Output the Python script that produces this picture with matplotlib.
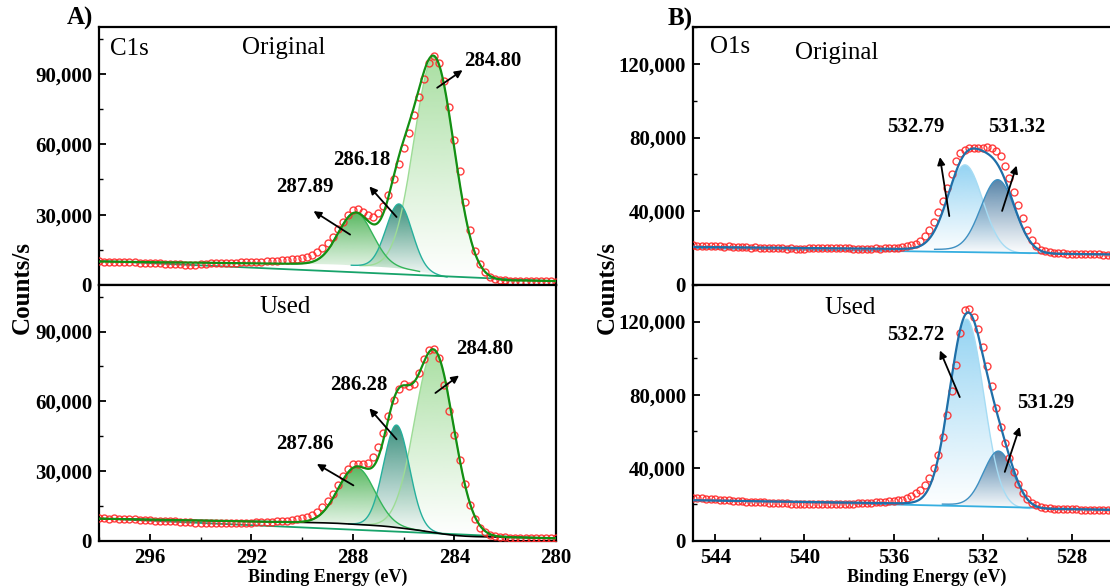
import numpy as np
import matplotlib
matplotlib.use('Agg')
import matplotlib.pyplot as plt
from matplotlib.colors import to_rgb
from matplotlib.patches import Polygon
from matplotlib.ticker import MultipleLocator, FuncFormatter, FixedLocator

plt.rcParams['font.family'] = ['Liberation Serif', 'DejaVu Serif']

# ---------------- data ----------------
c1s_energy = np.round(np.arange(298.0, 279.99, -0.2), 2)
c1s_orig_counts = [
    10100, 10000, 9900, 9900, 9800, 9700, 9800, 9600, 9500, 9500,
    9400, 9300, 9300, 9100, 9000, 9000, 8800, 8600, 8500, 8700,
    8900, 9100, 9200, 9300, 9300, 9400, 9500, 9500, 9600, 9700,
    9800, 9900, 10000, 10100, 10200, 10300, 10500, 10700, 10900, 11100,
    11400, 12000, 12800, 14000, 15600, 17800, 20600, 23700, 26900, 30000,
    32000, 32300, 31200, 29800, 29000, 30500, 33500, 38500, 45000, 51500,
    58500, 65000, 72500, 80000, 88000, 94500, 97500, 94500, 87000, 76000,
    62000, 48500, 35500, 23500, 14500, 8800, 5500, 3600, 2700, 2300,
    2100, 1900, 1800, 1700, 1700, 1600, 1600, 1500, 1500, 1500,
    1400]
c1s_used_counts = [
    9800, 9700, 9600, 9700, 9500, 9400, 9300, 9300, 9200, 9000,
    8900, 8800, 8800, 8700, 8500, 8400, 8200, 8100, 8000, 7900,
    7800, 7700, 7700, 7600, 7700, 7700, 7600, 7700, 7800, 7800,
    7900, 8000, 8100, 8200, 8300, 8400, 8600, 8800, 9000, 9300,
    9700, 10300, 11200, 12600, 14600, 17200, 20400, 24000, 27800, 31000,
    33000, 33300, 33000, 33500, 36000, 40500, 46500, 53500, 60500, 65500,
    67500, 66500, 67500, 72000, 78000, 82000, 82500, 78500, 67000, 56000,
    45500, 35000, 24500, 15500, 9500, 5800, 3800, 2700, 2100, 1800,
    1600, 1500, 1400, 1400, 1300, 1300, 1300, 1200, 1200, 1200,
    1100]

o1s_energy = np.round(np.arange(545.0, 523.99, -0.2), 2)
o1s_orig_counts = [
    21500, 21300, 21400, 21200, 21000, 21100, 20900, 20800, 20900, 20700,
    20600, 20600, 20400, 20300, 20400, 20200, 20100, 20200, 20000, 19900,
    20000, 19800, 19900, 19700, 19800, 19800, 19900, 20000, 20100, 20000,
    20200, 20100, 20200, 20000, 19900, 19900, 19800, 19700, 19800, 19700,
    19800, 19900, 19800, 19900, 20000, 20100, 20300, 20700, 21200, 21700,
    22500, 24000, 26500, 29800, 34000, 39500, 45500, 52500, 60000, 67500,
    71500, 73500, 74300, 74500, 74200, 74400, 74900, 74300, 72800, 70000,
    64800, 58000, 50500, 43500, 36500, 30000, 24500, 21000, 19200, 18200,
    17700, 17400, 17200, 17100, 17000, 16900, 16900, 16800, 16700, 16700,
    16600, 16600, 16500, 16500, 16400, 16500, 16400, 16300, 16300, 16200,
    16300, 16200, 16100, 16100, 16000, 16000]
o1s_used_counts = [
    23600, 23400, 23300, 23000, 22900, 22700, 22500, 22300, 22200, 22000,
    21900, 21700, 21600, 21500, 21300, 21200, 21100, 21000, 20900, 20800,
    20700, 20600, 20500, 20500, 20400, 20400, 20300, 20400, 20300, 20200,
    20300, 20200, 20300, 20400, 20300, 20500, 20400, 20600, 20700, 20800,
    20900, 21100, 21300, 21600, 21900, 22100, 22200, 22500, 23300, 24500,
    26000, 27800, 30500, 34500, 40000, 47000, 57000, 69000, 82000, 96000,
    114000, 126500, 127000, 122500, 116000, 106000, 95500, 84500, 73000, 62500,
    53500, 45500, 37500, 31000, 26300, 23200, 21000, 19600, 18700, 18200,
    17900, 17700, 17600, 17500, 17400, 17300, 17300, 17200, 17200, 17100,
    17100, 17000, 17000, 16900, 16900, 16900, 16800, 16800, 16800, 16700,
    16700, 16700, 16600, 16600, 16600, 16500]

# fitted components: centre (eV), height (counts/s), FWHM (eV)
c1s_orig_centers = [284.80, 286.18, 287.89]
c1s_orig_heights = [92500, 27500, 22500]
c1s_orig_fwhm = [1.85, 1.2, 1.6]
c1s_used_centers = [284.80, 286.28, 287.86]
c1s_used_heights = [78000, 44000, 24500]
c1s_used_fwhm = [1.8, 1.2, 1.7]
o1s_orig_centers = [532.79, 531.32]
o1s_orig_heights = [46500, 39500]
o1s_orig_fwhm = [1.85, 1.8]
o1s_used_centers = [532.72, 531.29]
o1s_used_heights = [102000, 31000]
o1s_used_fwhm = [1.8, 1.6]

# Shirley background levels: low-BE level, high-BE level, linear slope
c1s_orig_bg = (1700, 7750, 125)
c1s_used_bg = (1200, 6000, 200)
o1s_orig_bg = (16300, 18160, 120)
o1s_used_bg = (16600, 18490, 180)

# straight background lines (end points)
c1s_orig_line = ([298, 280], [10300, 1600])
c1s_used_line = ([298, 280], [9700, 1000])
o1s_orig_line = ([545, 524], [20000, 16300])
o1s_used_line = ([545, 524], [22500, 16600])

# tick positions
c1s_xticks = [296, 292, 288, 284, 280]
o1s_xticks = [544, 540, 536, 532, 528]

# peak labels: text, label (E, I), arrow tail (E, I), arrow head (E, I)
c1s_orig_labels = [("284.80", (282.48, 95700), (284.68, 84100), (283.68, 91600)),
                   ("286.18", (287.63, 53500), (286.28, 29000), (287.35, 42000)),
                   ("287.89", (289.89, 41900), (288.11, 21500), (289.55, 31500))]
c1s_used_labels = [("284.80", (282.82, 82300), (284.75, 63600), (283.82, 71100)),
                   ("286.28", (287.78, 67200), (286.28, 43700), (287.35, 57000)),
                   ("287.86", (289.89, 41700), (287.98, 23900), (289.42, 33100))]
o1s_orig_labels = [("532.79", (535.02, 85800), (533.50, 37400), (533.92, 69400)),
                   ("531.32", (530.48, 85800), (531.13, 40200), (530.48, 64800))]
o1s_used_labels = [("532.72", (535.02, 112400), (533.03, 78700), (533.92, 104200)),
                   ("531.29", (529.17, 75600), (531.01, 37800), (530.34, 62400))]

# ---------------- styling ----------------
c1s_env_color = '#138f13'
c1s_line_colors = ['#9ddc96', '#26b09c', '#34b55a']
c1s_fill_colors = ['#a9dfa2', '#3a8f7d', '#58b860']
c1s_bgline_color = '#17a36a'
o1s_env_color = '#1f6fa8'
o1s_line_colors = ['#a6dcf4', '#3e90c2']
o1s_fill_colors = ['#93d3f3', '#5683a8']
o1s_bgline_color = '#35aee0'
data_color = '#ff2a2a'


def gauss(E, c, h, w):
    return h * np.exp(-4 * np.log(2) * ((E - c) / w) ** 2)


def grad_fill(ax, x, base, top, color, z):
    verts = np.vstack([np.column_stack([x, top]),
                       np.column_stack([x[::-1], base[::-1]])])
    patch = Polygon(verts, closed=True, facecolor='none', edgecolor='none')
    ax.add_patch(patch)
    n = 256
    img = np.zeros((n, 1, 4))
    img[:, 0, :3] = to_rgb(color)
    img[:, 0, 3] = np.linspace(0.0, 1.0, n) ** 1.1
    im = ax.imshow(img, extent=[x.min(), x.max(), base.min(), top.max()],
                   origin='lower', aspect='auto', zorder=z, interpolation='bilinear')
    im.set_clip_path(patch)


def draw_panel(ax, energy, counts, centers, heights, fwhms, bgpar, line,
               env_color, line_colors, fill_colors, bgline_color,
               xlim, ylim, labels, shirley_black=False):
    E = np.linspace(min(xlim), max(xlim), 1200)
    peaks = [gauss(E, c, h, w) for c, h, w in zip(centers, heights, fwhms)]
    tot = np.sum(peaks, axis=0)
    frac = np.cumsum(tot) / np.sum(tot)
    b_r, b_l, s = bgpar
    bg = b_r + (b_l - b_r) * frac + s * (E - E[0])
    for i, p in enumerate(peaks):
        grad_fill(ax, E, bg, bg + p, fill_colors[i], 1 + i * 0.1)
    for i, p in enumerate(peaks):
        m = p > heights[i] * 1e-3
        ax.plot(E[m], (bg + p)[m], color=line_colors[i], lw=1.0, zorder=2)
    ax.plot(line[0], line[1], color=bgline_color, lw=1.3, zorder=2.2)
    if shirley_black:
        ax.plot(E, bg, color='black', lw=1.2, zorder=2.3)
    ax.plot(energy, counts, 'o', ms=5.0, mfc='none', mec=data_color, mew=1.0,
            alpha=0.9, zorder=3)
    ax.plot(E, bg + tot, color=env_color, lw=1.6, zorder=4)
    for txt, lab, tail, head in labels:
        ax.annotate('', xy=head, xytext=tail,
                    arrowprops=dict(arrowstyle='-|>', color='black', lw=1.3,
                                    mutation_scale=11, shrinkA=0, shrinkB=0),
                    zorder=5)
        ax.text(lab[0], lab[1], txt, fontsize=15, fontweight='bold',
                ha='center', va='center', zorder=6)
    ax.set_xlim(*xlim)
    ax.set_ylim(*ylim)


fig = plt.figure(figsize=(11.1, 5.88), dpi=100)
W, H = 1110, 588
lx, lw = 99 / W, 457 / W
rx, rw = 693 / W, 468 / W
top_b, top_h = (H - 285) / H, 258 / H
bot_b, bot_h = (H - 541) / H, 256 / H

ax_a1 = fig.add_axes([lx, top_b, lw, top_h])
ax_a2 = fig.add_axes([lx, bot_b, lw, bot_h])
ax_b1 = fig.add_axes([rx, top_b, rw, top_h])
ax_b2 = fig.add_axes([rx, bot_b, rw, bot_h])

draw_panel(ax_a1, c1s_energy, c1s_orig_counts, c1s_orig_centers, c1s_orig_heights,
           c1s_orig_fwhm, c1s_orig_bg, c1s_orig_line, c1s_env_color, c1s_line_colors,
           c1s_fill_colors, c1s_bgline_color, (298, 280), (0, 110000), c1s_orig_labels)
draw_panel(ax_a2, c1s_energy, c1s_used_counts, c1s_used_centers, c1s_used_heights,
           c1s_used_fwhm, c1s_used_bg, c1s_used_line, c1s_env_color, c1s_line_colors,
           c1s_fill_colors, c1s_bgline_color, (298, 280), (0, 110000), c1s_used_labels,
           shirley_black=True)
draw_panel(ax_b1, o1s_energy, o1s_orig_counts, o1s_orig_centers, o1s_orig_heights,
           o1s_orig_fwhm, o1s_orig_bg, o1s_orig_line, o1s_env_color, o1s_line_colors,
           o1s_fill_colors, o1s_bgline_color, (545, 524), (0, 140000), o1s_orig_labels)
draw_panel(ax_b2, o1s_energy, o1s_used_counts, o1s_used_centers, o1s_used_heights,
           o1s_used_fwhm, o1s_used_bg, o1s_used_line, o1s_env_color, o1s_line_colors,
           o1s_fill_colors, o1s_bgline_color, (545, 524), (0, 140000), o1s_used_labels)

fmt = FuncFormatter(lambda v, p: f'{int(round(v)):,}')
for ax, ymaj, xt in [(ax_a1, 30000, c1s_xticks), (ax_a2, 30000, c1s_xticks),
                     (ax_b1, 40000, o1s_xticks), (ax_b2, 40000, o1s_xticks)]:
    for sp in ax.spines.values():
        sp.set_linewidth(1.6)
    ax.yaxis.set_major_locator(MultipleLocator(ymaj))
    ax.yaxis.set_minor_locator(MultipleLocator(ymaj / 2))
    ax.yaxis.set_major_formatter(fmt)
    ax.xaxis.set_major_locator(FixedLocator(xt))
    ax.xaxis.set_minor_locator(FixedLocator([v + 2 for v in xt] + [xt[-1] - 2]))
    ax.tick_params(which='both', direction='in', left=True, right=False, top=False)
    ax.tick_params(which='major', length=5, width=1.3, pad=5, labelsize=15)
    ax.tick_params(which='minor', length=3, width=1.0)
    for lab in ax.get_yticklabels() + ax.get_xticklabels():
        lab.set_fontweight('bold')

for ax in (ax_a1, ax_b1):
    ax.tick_params(which='both', bottom=False, labelbottom=False)
for ax in (ax_a2, ax_b2):
    ax.tick_params(which='major', axis='x', pad=5)
    ax.set_xlabel('Binding Energy (eV)', fontsize=13, fontweight='bold')
    ax.xaxis.set_label_coords(0.5, -0.108)

# panel texts
ax_a1.text(0.024, 0.915, 'C1s', transform=ax_a1.transAxes, fontsize=18, va='center', ha='left')
ax_a1.text(0.405, 0.919, 'Original', transform=ax_a1.transAxes, fontsize=18, va='center', ha='center')
ax_a2.text(0.408, 0.914, 'Used', transform=ax_a2.transAxes, fontsize=18, va='center', ha='center')
ax_b1.text(0.036, 0.922, 'O1s', transform=ax_b1.transAxes, fontsize=18, va='center', ha='left')
ax_b1.text(0.308, 0.900, 'Original', transform=ax_b1.transAxes, fontsize=18, va='center', ha='center')
ax_b2.text(0.335, 0.910, 'Used', transform=ax_b2.transAxes, fontsize=18, va='center', ha='center')

fig.text(22 / W, 1 - 287 / H, 'Counts/s', rotation=90, fontsize=18, fontweight='bold',
         ha='center', va='center')
fig.text(607 / W, 1 - 287 / H, 'Counts/s', rotation=90, fontsize=18, fontweight='bold',
         ha='center', va='center')
fig.text(80 / W, 1 - 18 / H, 'A)', fontsize=18, fontweight='bold', ha='center', va='center')
fig.text(680 / W, 1 - 19 / H, 'B)', fontsize=18, fontweight='bold', ha='center', va='center')

fig.savefig('out.png', dpi=100)
